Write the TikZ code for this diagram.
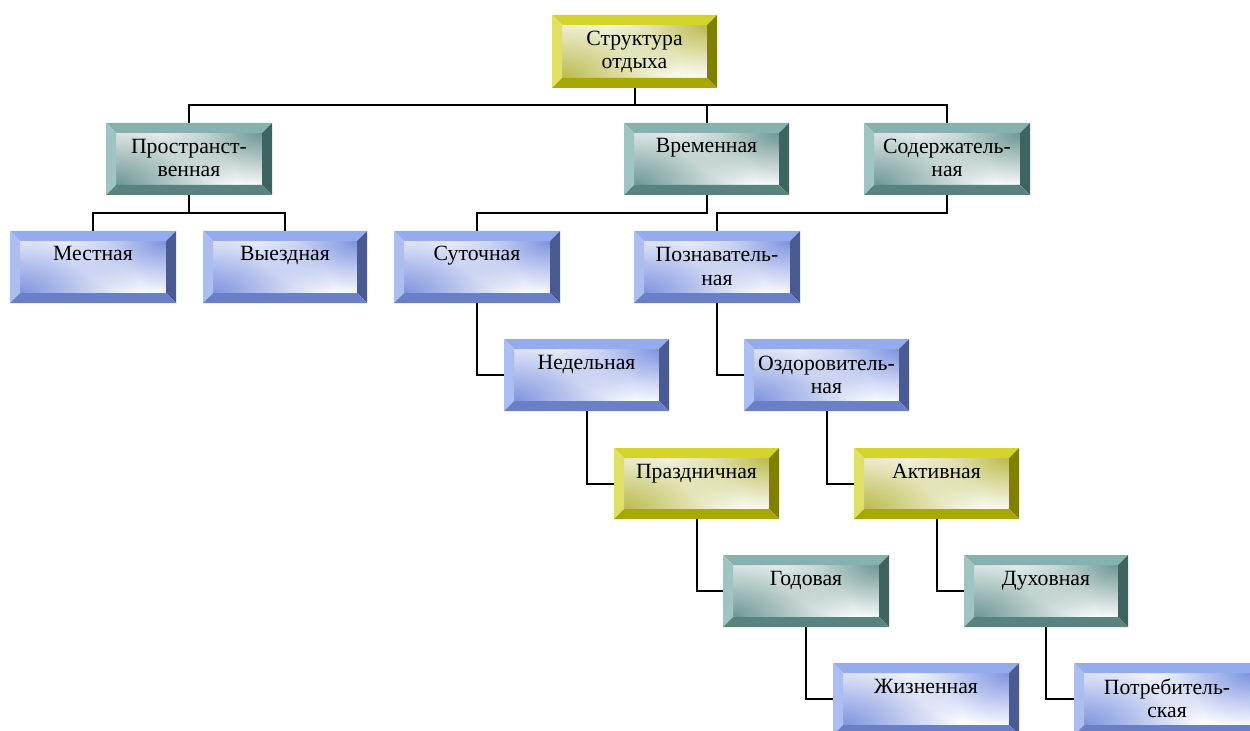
\documentclass[tikz,border=0pt]{standalone}
\usepackage{fontspec}
\setmainfont{Liberation Serif}
\newfontfamily\tnr{Liberation Serif}
\usetikzlibrary{calc,fit,fadings}
\tikzfading[name=glow, inner color=transparent!0, outer color=transparent!100]
% yellow scheme
\definecolor{Ytop}{HTML}{D4D42C}
\definecolor{Yleft}{HTML}{E0E066}
\definecolor{Yright}{HTML}{808000}
\definecolor{Ybot}{HTML}{A8A800}
\definecolor{Yface}{HTML}{B4B43A}
% teal scheme
\definecolor{Ttop}{HTML}{86B2AE}
\definecolor{Tleft}{HTML}{A0C4C2}
\definecolor{Tright}{HTML}{3E6462}
\definecolor{Tbot}{HTML}{58837F}
\definecolor{Tface}{HTML}{5E8C88}
% blue scheme
\definecolor{Btop}{HTML}{94ACEE}
\definecolor{Bleft}{HTML}{AABEF2}
\definecolor{Bright}{HTML}{4A5A92}
\definecolor{Bbot}{HTML}{6A80C6}
\definecolor{Bface}{HTML}{7088DC}
\tikzset{
  boxnode/.style={inner sep=0pt, outer sep=0pt, draw=none},
  conn/.style={line width=1.5pt, black},
  txt/.style={font=\tnr\fontsize{16.3}{19}\selectfont, inner sep=0pt, anchor=base},
}
% #1 name, #2 x1, #3 y1, #4 x2, #5 y2, #6 scheme
\newcommand\bevbox[6]{%
  \node[boxnode, fit={(#2,#3) (#4,#5)}] (#1) {};
  \begin{scope}
    \clip ([shift={(10,10)}]#1.north west) rectangle ([shift={(-10,-10)}]#1.south east);
    \fill[white] ([shift={(10,10)}]#1.north west) rectangle ([shift={(-10,-10)}]#1.south east);
    \fill[#6face, path fading=glow, fill opacity=0.9] ([shift={(10,-10)}]#1.south west) ellipse [x radius=120, y radius=70];
    \fill[#6face, path fading=glow, fill opacity=0.9] ([shift={(-10,10)}]#1.north east) ellipse [x radius=100, y radius=55];
  \end{scope}
  \fill[#6top] (#1.north west) -- (#1.north east) -- ([shift={(-10,10)}]#1.north east) -- ([shift={(10,10)}]#1.north west) -- cycle;
  \fill[#6left] (#1.north west) -- ([shift={(10,10)}]#1.north west) -- ([shift={(10,-10)}]#1.south west) -- (#1.south west) -- cycle;
  \fill[#6right] (#1.north east) -- (#1.south east) -- ([shift={(-10,-10)}]#1.south east) -- ([shift={(-10,10)}]#1.north east) -- cycle;
  \fill[#6bot] (#1.south west) -- ([shift={(10,-10)}]#1.south west) -- ([shift={(-10,-10)}]#1.south east) -- (#1.south east) -- cycle;
}
\newcommand\onetext[2]{\node[txt] (#1-a) at ([yshift=-22.5pt]#1.north) {#2};}
\newcommand\twotext[3]{%
  \node[txt] (#1-a) at ([yshift=-23.25pt]#1.north) {#2};
  \node[txt] (#1-b) at ([yshift=-40.5pt]#1.north) {#3};}
\begin{document}
\begin{tikzpicture}[x=0.75pt, y=-0.75pt]
\useasboundingbox (0,0) rectangle (1250,731);
\clip (0,0) rectangle (1250,731);
\fill[white] (0,0) rectangle (1250,731);

\bevbox{top}{552}{15}{717}{88}{Y}
\bevbox{prost}{106}{123}{272}{195}{T}
\bevbox{vrem}{624}{123}{789}{195}{T}
\bevbox{soder}{864}{123}{1030}{195}{T}
\bevbox{mest}{10}{231}{176}{303}{B}
\bevbox{vyezd}{203}{231}{367}{303}{B}
\bevbox{sut}{394}{231}{560}{303}{B}
\bevbox{pozn}{634}{231}{800}{303}{B}
\bevbox{ned}{504}{339}{669}{411}{B}
\bevbox{ozd}{744}{339}{909}{411}{B}
\bevbox{prazd}{614}{448}{779}{519}{Y}
\bevbox{akt}{854}{448}{1019}{519}{Y}
\bevbox{god}{723}{555}{889}{627}{T}
\bevbox{duh}{964}{555}{1128}{627}{T}
\bevbox{zhiz}{833}{663}{1019}{735}{B}
\bevbox{potr}{1074}{663}{1260}{735}{B}

\twotext{top}{Структура}{отдыха}
\twotext{prost}{Пространст-}{венная}
\onetext{vrem}{Временная}
\twotext{soder}{Содержатель-}{ная}
\onetext{mest}{Местная}
\onetext{vyezd}{Выездная}
\onetext{sut}{Суточная}
\twotext{pozn}{Познаватель-}{ная}
\onetext{ned}{Недельная}
\twotext{ozd}{Оздоровитель-}{ная}
\onetext{prazd}{Праздничная}
\onetext{akt}{Активная}
\onetext{god}{Годовая}
\onetext{duh}{Духовная}
\onetext{zhiz}{Жизненная}
\twotext{potr}{Потребитель-}{ская}

% connectors
\draw[conn] (top.south) -- ++(0,17);
\draw[conn] (prost.north) -- ++(0,-18) -| (soder.north);
\draw[conn] (vrem.north) -- ++(0,-18);
\draw[conn] (prost.south) -- ++(0,18);
\draw[conn] (mest.north) -- ++(0,-18) -| (vyezd.north);
\draw[conn] (vrem.south) -- ++(0,18) -| (sut.north);
\draw[conn] (soder.south) -- ++(0,18) -| (pozn.north);
\draw[conn] (sut.south) |- (ned.west);
\draw[conn] (pozn.south) |- (ozd.west);
\draw[conn] (ned.south) |- (prazd.west);
\draw[conn] (ozd.south) |- (akt.west);
\draw[conn] (prazd.south) |- (god.west);
\draw[conn] (akt.south) |- (duh.west);
\draw[conn] (god.south) |- (zhiz.west);
\draw[conn] (duh.south) |- (potr.west);
\end{tikzpicture}
\end{document}
